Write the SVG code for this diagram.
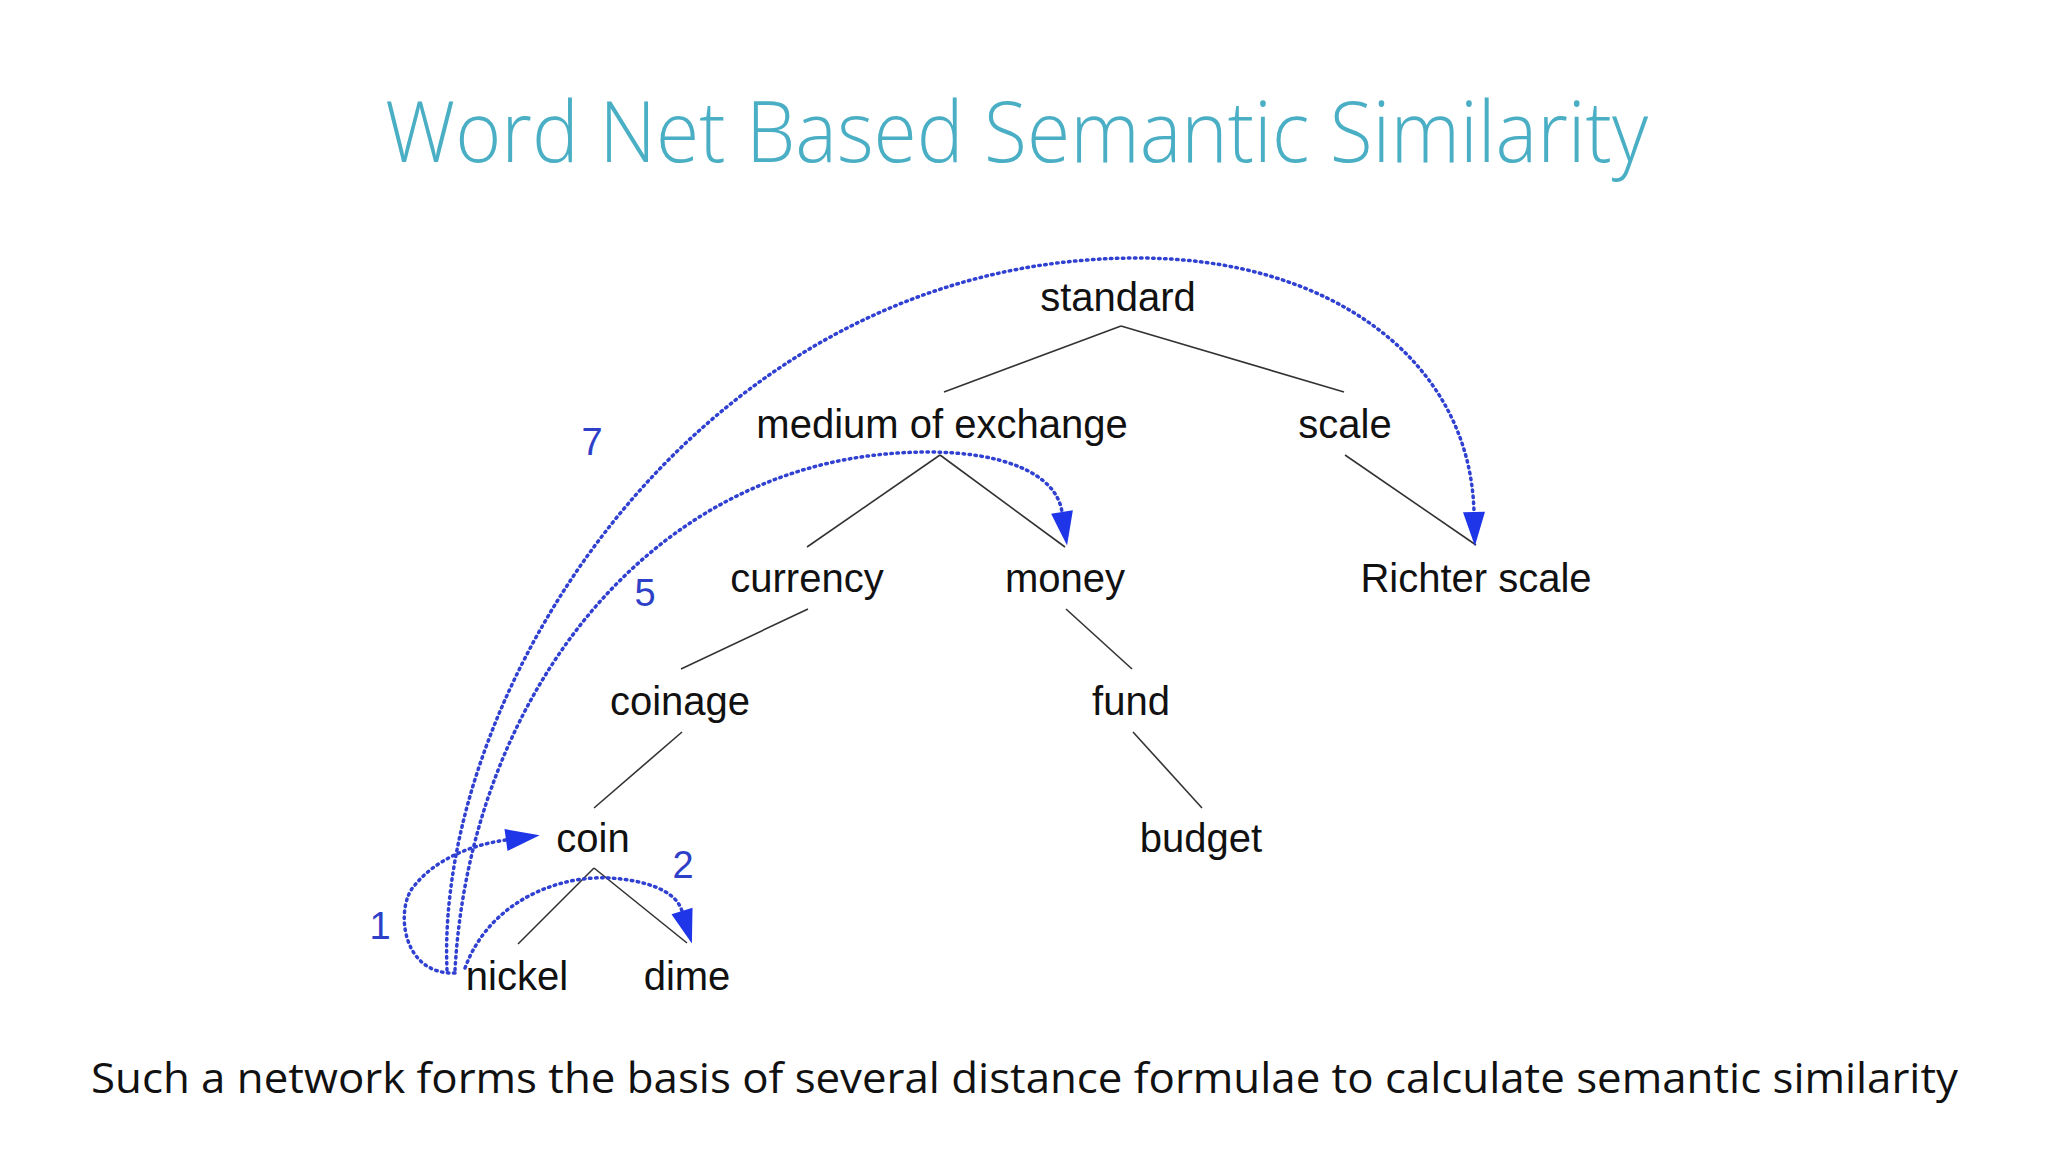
<svg xmlns="http://www.w3.org/2000/svg" width="2048" height="1152" viewBox="0 0 2048 1152">
<style>
.title{font-family:"Open Sans","Liberation Sans",sans-serif;font-weight:300;font-size:84px;fill:#4aafc4}
.foot{font-family:"Open Sans","Liberation Sans",sans-serif;font-size:42px;fill:#111}
.node{font-family:"Liberation Sans",Arial,sans-serif;font-size:40px;fill:#111;text-anchor:middle}
.num{font-family:"Liberation Sans",Arial,sans-serif;font-size:38px;fill:#2e3fc8;text-anchor:middle}
.tree{stroke:#333;stroke-width:1.6;fill:none}
.path{stroke:#3040d0;stroke-width:3.5;fill:none;stroke-dasharray:1.5 4.5;stroke-linecap:round;marker-end:url(#ah)}
</style>
<defs>
<marker id="ah" markerUnits="userSpaceOnUse" markerWidth="40" markerHeight="30" viewBox="0 -15 40 30" refX="0" refY="0" orient="auto" overflow="visible">
<path d="M0,-11 L34,0 L0,11 Z" fill="#1f35e8"/>
</marker>
</defs>
<rect width="2048" height="1152" fill="#ffffff"/>
<text class="title" x="385" y="162" textLength="1263" lengthAdjust="spacingAndGlyphs">Word Net Based Semantic Similarity</text>

<g id="connectors">
<line class="tree" x1="1121" y1="326" x2="944" y2="392"/>
<line class="tree" x1="1121" y1="326" x2="1344" y2="392"/>
<line class="tree" x1="940" y1="455" x2="807" y2="547"/>
<line class="tree" x1="940" y1="455" x2="1065" y2="547"/>
<line class="tree" x1="1345" y1="455" x2="1476" y2="545"/>
<line class="tree" x1="808" y1="609" x2="681" y2="669"/>
<line class="tree" x1="1066" y1="609" x2="1132" y2="669"/>
<line class="tree" x1="682" y1="732" x2="594" y2="808"/>
<line class="tree" x1="1133" y1="732" x2="1202" y2="808"/>
<line class="tree" x1="594" y1="868" x2="518" y2="944"/>
<line class="tree" x1="594" y1="868" x2="687" y2="943"/>
<path class="path" d="M455 973 C400 975 395 905 415 885 C435 860 470 845 506 840"/>
<path class="path" d="M465 968 C490 900 560 875 610 878 C640 880 675 888 682 911"/>
<path class="path" d="M455 970 C470 700 650 452 928 452 C1000 452 1056 472 1062 512"/>
<path class="path" d="M447 970 C435 690 700 258 1138 258 C1330 258 1470 360 1474 512"/>
</g>

<g id="labels">
<text class="num" x="380" y="939">1</text>
<text class="num" x="683" y="878">2</text>
<text class="num" x="645" y="606">5</text>
<text class="num" x="592" y="455">7</text>
</g>

<g id="n-standard"><text class="node" x="1118" y="311">standard</text></g>
<g id="n-medium"><text class="node" x="942" y="438">medium of exchange</text></g>
<g id="n-scale"><text class="node" x="1345" y="438">scale</text></g>
<g id="n-currency"><text class="node" x="807" y="592">currency</text></g>
<g id="n-money"><text class="node" x="1065" y="592">money</text></g>
<g id="n-richter"><text class="node" x="1476" y="592">Richter scale</text></g>
<g id="n-coinage"><text class="node" x="680" y="715">coinage</text></g>
<g id="n-fund"><text class="node" x="1131" y="715">fund</text></g>
<g id="n-coin"><text class="node" x="593" y="852">coin</text></g>
<g id="n-budget"><text class="node" x="1201" y="852">budget</text></g>
<g id="n-nickel"><text class="node" x="517" y="990">nickel</text></g>
<g id="n-dime"><text class="node" x="687" y="990">dime</text></g>

<text class="foot" x="91" y="1093" textLength="1867" lengthAdjust="spacingAndGlyphs">Such a network forms the basis of several distance formulae to calculate semantic similarity</text>
</svg>
